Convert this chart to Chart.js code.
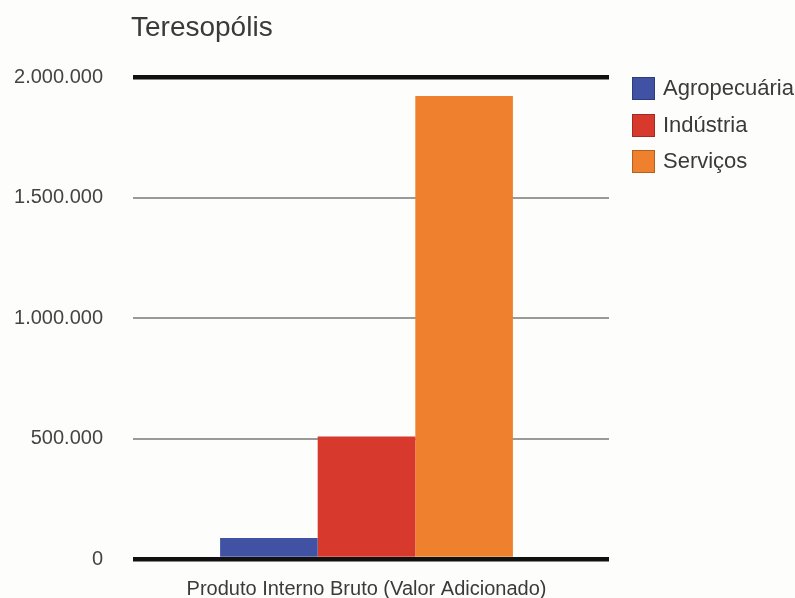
<!DOCTYPE html>
<html lang="pt">
<head>
<meta charset="utf-8">
<title>Teresopólis – PIB</title>
<script src="https://cdn.jsdelivr.net/npm/chart.js@4.4.1/dist/chart.umd.min.js"></script>
<style>
  html, body { margin: 0; padding: 0; background: #fdfdfb; }
  #wrap { position: relative; width: 795px; height: 598px; }
  canvas { display: block; }
</style>
</head>
<body>
<div id="wrap"><canvas id="pib" width="795" height="598"></canvas></div>
<script>
// Produto Interno Bruto (valor adicionado) de Teresópolis, por setor
const chartTitle = 'Teresopólis';
const categories = ['Produto Interno Bruto (Valor Adicionado)'];
const sectors = ['Agropecuária', 'Indústria', 'Serviços'];
const sectorValues = [87000, 508000, 1921000];
const sectorColors = ['#4151a3', '#d7392c', '#ef802e'];
const yTickValues = [0, 500000, 1000000, 1500000, 2000000];
const yTickLabels = ['0', '500.000', '1.000.000', '1.500.000', '2.000.000'];

const FONT = '"Liberation Sans", Arial, Helvetica, sans-serif';

const isEdge = c => c.tick && (c.tick.value === 0 || c.tick.value === 2000000);
const gridColor = c => isEdge(c) ? '#111111' : '#9a9a9a';
const gridWidth = c => isEdge(c) ? 4.5 : 2;

// Title and legend drawn beside the plot area
const sidePlugin = {
  id: 'sideDecor',
  afterDraw(chart) {
    const ctx = chart.ctx;
    ctx.save();
    ctx.fillStyle = '#3a3a3a';
    ctx.font = '28px ' + FONT;
    ctx.textBaseline = 'alphabetic';
    ctx.textAlign = 'left';
    ctx.fillText(chartTitle, 131, 36);

    const rows = [88, 125, 161];
    chart.data.datasets.forEach((ds, i) => {
      const cy = rows[i];
      ctx.fillStyle = ds.backgroundColor;
      ctx.fillRect(632, cy - 11, 23, 23);
      ctx.strokeStyle = 'rgba(0,0,0,0.25)';
      ctx.lineWidth = 1;
      ctx.strokeRect(632.5, cy - 10.5, 22, 22);
      ctx.fillStyle = '#3a3a3a';
      ctx.font = '22px ' + FONT;
      ctx.textBaseline = 'middle';
      ctx.fillText(ds.label, 663, cy + 1);
    });
    ctx.restore();
  }
};

new Chart(document.getElementById('pib'), {
  type: 'bar',
  data: {
    labels: categories,
    datasets: sectors.map((s, i) => ({
      label: s,
      data: [sectorValues[i]],
      backgroundColor: sectorColors[i],
      borderWidth: 0
    }))
  },
  plugins: [sidePlugin],
  options: {
    responsive: false,
    animation: false,
    devicePixelRatio: 1,
    layout: { padding: { left: 10, top: 77, right: 186, bottom: 0 } },
    datasets: { bar: { categoryPercentage: 0.627, barPercentage: 1.0 } },
    plugins: {
      legend: { display: false },
      title: { display: false },
      tooltip: { enabled: false }
    },
    scales: {
      x: {
        grid: { display: false, drawTicks: false },
        border: { display: false },
        ticks: { color: '#3a3a3a', font: { family: FONT, size: 20 }, padding: 18 },
        afterFit(s) { s.height = 39; }
      },
      y: {
        min: 0,
        max: 2000000,
        afterBuildTicks(s) { s.ticks = yTickValues.map(v => ({ value: v })); },
        afterFit(s) { s.width = 123; },
        border: { display: false },
        // invisible tick marks keep the labels clear of the grid lines
        grid: {
          drawTicks: true,
          tickLength: 27,
          tickColor: 'rgba(0,0,0,0)',
          color: gridColor,
          lineWidth: gridWidth
        },
        ticks: {
          color: '#444444',
          font: { family: FONT, size: 20 },
          padding: 3,
          autoSkip: false,
          callback: (v) => yTickLabels[yTickValues.indexOf(v)]
        }
      },
      // right-hand axis only carries the short grid extension past the bars
      yRight: {
        position: 'right',
        min: 0,
        max: 2000000,
        afterBuildTicks(s) { s.ticks = yTickValues.map(v => ({ value: v })); },
        afterFit(s) { s.width = 9; },
        border: { display: false },
        grid: {
          drawOnChartArea: false,
          drawTicks: true,
          tickLength: 9,
          color: gridColor,
          lineWidth: gridWidth
        },
        ticks: { display: false }
      }
    }
  }
});
</script>
</body>
</html>
